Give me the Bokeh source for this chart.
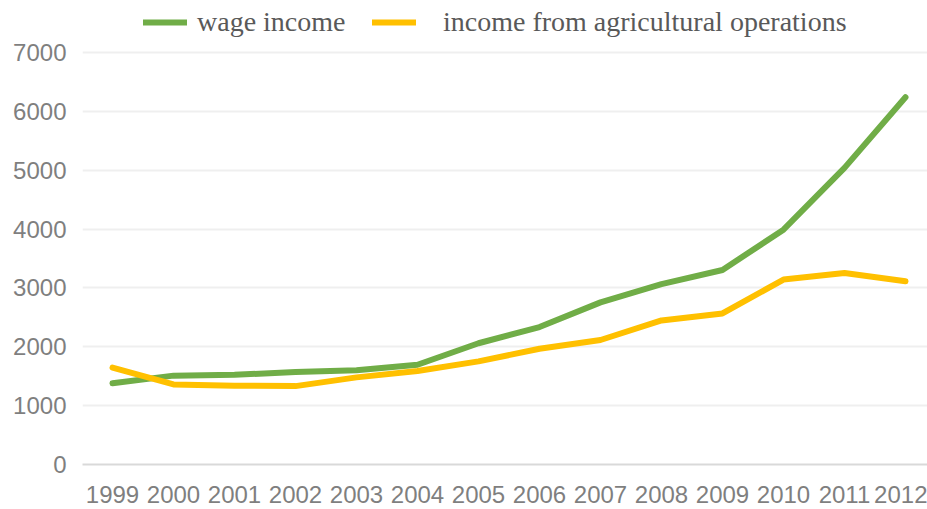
from bokeh.plotting import figure
from bokeh.models import Range1d, FixedTicker, Legend, LegendItem
from bokeh.embed import file_html
from bokeh.resources import INLINE

years = [1999, 2000, 2001, 2002, 2003, 2004, 2005, 2006, 2007, 2008, 2009, 2010, 2011, 2012]
wage_income = [1380, 1510, 1525, 1570, 1600, 1695, 2060, 2335, 2755, 3065, 3305, 3990, 5040, 6240]
agri_income = [1645, 1360, 1338, 1332, 1480, 1590, 1752, 1966, 2115, 2447, 2566, 3143, 3255, 3112]
y_ticks = [0, 1000, 2000, 3000, 4000, 5000, 6000, 7000]
labels = ["wage income", "income from agricultural operations"]
colors = ["#70ad47", "#ffc000"]

# frame spans the full top so the legend can sit inside it, above the 7000 gridline
p = figure(width=927, height=509, output_backend="svg", toolbar_location=None,
           x_range=Range1d(1998.508, 2012.361), y_range=Range1d(0, 7883.5),
           min_border_left=82, min_border_right=0, min_border_top=0, min_border_bottom=45)
p.outline_line_color = None
p.background_fill_color = "white"
p.border_fill_color = "white"

r1 = p.line(years, wage_income, line_color=colors[0], line_width=6, line_cap="round", line_join="round")
r2 = p.line(years, agri_income, line_color=colors[1], line_width=6, line_cap="round", line_join="round")

# axes
p.xaxis.ticker = FixedTicker(ticks=years)
p.yaxis.ticker = FixedTicker(ticks=y_ticks)
for ax in (p.xaxis, p.yaxis):
    ax.major_tick_line_color = None
    ax.minor_tick_line_color = None
    ax.major_tick_out = 0
    ax.major_tick_in = 0
    ax.major_label_text_font = "Liberation Sans"
    ax.major_label_text_font_size = "24px"
    ax.major_label_text_color = "#7f7f7f"
p.yaxis.axis_line_color = None
p.yaxis.major_label_standoff = 16
p.xaxis.axis_line_color = "#d9d9d9"
p.xaxis.axis_line_width = 2
p.xaxis.major_label_standoff = 21

p.xgrid.grid_line_color = None
p.ygrid.grid_line_color = "#efefef"
p.ygrid.grid_line_width = 2

common = dict(orientation="horizontal", glyph_width=44, glyph_height=30, label_height=30,
              padding=0, margin=0, border_line_color=None, background_fill_alpha=0,
              label_text_font="Liberation Serif", label_text_font_size="28px",
              label_text_color="#595959")
legend1 = Legend(items=[LegendItem(label=labels[0], renderers=[r1])],
                 location=(61, 426), label_standoff=10, **common)
legend2 = Legend(items=[LegendItem(label=labels[1], renderers=[r2])],
                 location=(290, 426), label_standoff=27, **common)
p.add_layout(legend1, "center")
p.add_layout(legend2, "center")

open("out.html", "w").write(file_html(p, INLINE))
